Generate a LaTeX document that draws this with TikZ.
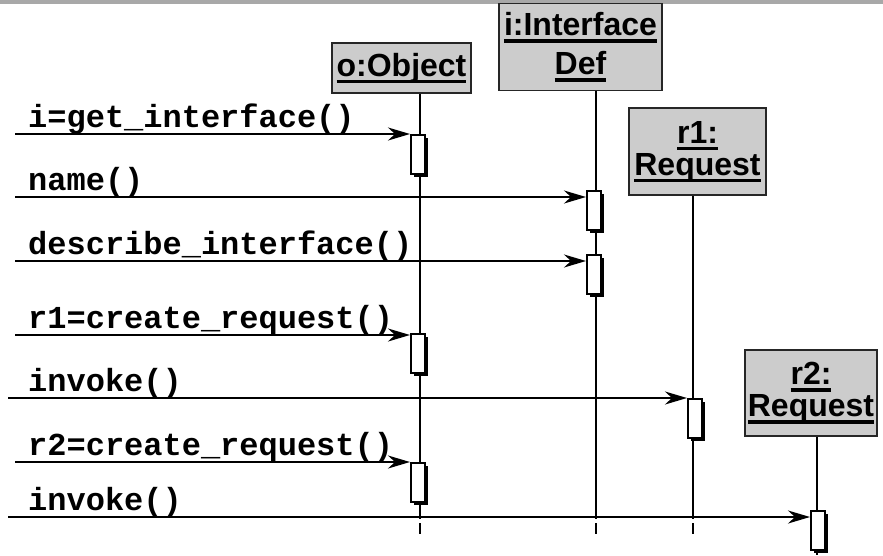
\documentclass[tikz,border=0pt]{standalone}
\usepackage{fontspec}
\setmainfont{Liberation Sans}
\newfontfamily\msgfont{Liberation Mono}
\usetikzlibrary{arrows.meta,shadows}

\newcommand\ulword[1]{\setbox0\hbox{#1}\rlap{\rule[-7pt]{\wd0}{3.5pt}}\box0}

\begin{document}
\begin{tikzpicture}[x=1pt, y=-1pt,
    obj/.style={draw=black!85, line width=1.5pt, fill=black!20, align=center,
                inner sep=0pt, font=\fontsize{32}{35}\selectfont\bfseries},
    act/.style={draw, line width=1.5pt, fill=white, anchor=north west,
                minimum width=14pt, minimum height=39pt, inner sep=0pt,
                drop shadow={shadow xshift=3pt, shadow yshift=-3pt, fill=black, opacity=1}},
    life/.style={line width=2pt},
    msg/.style={-{Stealth[length=22pt,width=13pt,inset=7pt]}, line width=2pt},
    lbl/.style={anchor=base west, inner sep=0pt, font=\fontsize{32}{36}\msgfont\bfseries}
]
    \useasboundingbox (0,0) rectangle (883,555);
    \fill[black!34] (0,0) rectangle (883,4);

    % Objects
    \node[obj, minimum width=139pt, minimum height=50pt] (o) at (401.5,68) {\ulword{o:Object}};
    \node[obj, minimum width=163pt, minimum height=87pt] (i) at (580.5,47) {\ulword{i:Interface}\\[4pt]\ulword{Def}};
    \node[obj, minimum width=137pt, minimum height=87pt] (r1) at (697.5,151.5) {\ulword{r1:}\\[-3pt]\ulword{Request}};
    \node[obj, minimum width=132pt, minimum height=86pt] (r2) at (811,393) {\ulword{r2:}\\[-3pt]\ulword{Request}};

    % Lifelines
    \coordinate (oend) at (420,519);
    \coordinate (iend) at (595.5,519);
    \coordinate (r1end) at (692.5,519);
    \coordinate (r2end) at (817,555);
    \draw[life] (o.south -| oend) -- (oend) ++(0,4) -- ++(0,11);
    \draw[life] (i.south -| iend) -- (iend) ++(0,4) -- ++(0,11);
    \draw[life] (r1.south -| r1end) -- (r1end) ++(0,4) -- ++(0,11);
    \draw[life] (r2.south -| r2end) -- (r2end);

    % Activations
    \node[act] (a1) at (410,134) {};
    \node[act] (a2) at (586,190) {};
    \node[act] (a3) at (586,254) {};
    \node[act] (a4) at (410,333) {};
    \node[act] (a5) at (687,398) {};
    \node[act] (a6) at (410,462) {};
    \node[act] (a7) at (810,510) {};

    % Messages
    \coordinate (m1) at (15,134);
    \coordinate (m2) at (15,197);
    \coordinate (m3) at (15,261);
    \coordinate (m4) at (15,335);
    \coordinate (m5) at (8,398);
    \coordinate (m6) at (15,462);
    \coordinate (m7) at (8,517);
    \draw[msg] (m1) -- (m1 -| a1.west);
    \draw[msg] (m2) -- (m2 -| a2.west);
    \draw[msg] (m3) -- (m3 -| a3.west);
    \draw[msg] (m4) -- (m4 -| a4.west);
    \draw[msg] (m5) -- (m5 -| a5.west);
    \draw[msg] (m6) -- (m6 -| a6.west);
    \draw[msg] (m7) -- (m7 -| a7.west);

    \node[lbl] (l1) at (28,127) {i=get\_interface()};
    \node[lbl] (l2) at (28,190) {name()};
    \node[lbl] (l3) at (28,254) {describe\_interface()};
    \node[lbl] (l4) at (28,328) {r1=create\_request()};
    \node[lbl] (l5) at (28,391) {invoke()};
    \node[lbl] (l6) at (28,455) {r2=create\_request()};
    \node[lbl] (l7) at (28,510) {invoke()};
\end{tikzpicture}
\end{document}
